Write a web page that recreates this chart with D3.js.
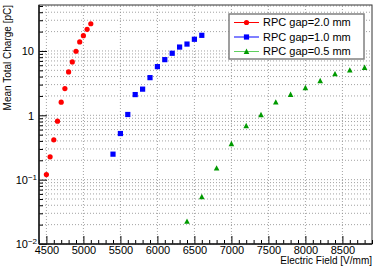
<!DOCTYPE html>
<html lang="en">
<head>
<meta charset="utf-8">
<title>Mean Total Charge</title>
<script src="https://d3js.org/d3.v7.min.js"></script>
<style>
  body { margin: 0; background: #fff; }
  text { font-family: "Liberation Sans", Arial, sans-serif; fill: #000; }
  .grid line { stroke: #8a8a8a; stroke-width: 0.8; stroke-dasharray: 1,2; }
  .axis line { stroke: #000; }
  .axis path { display: none; }
</style>
</head>
<body>
<div class="chart"></div>
<script>
// values
const field2mm = [4500, 4550, 4600, 4650, 4700, 4750, 4800, 4850, 4900, 4950, 5000, 5050, 5100];
const charge2mm = [0.120, 0.226, 0.416, 0.81, 1.60, 2.60, 4.72, 6.75, 9.9, 13.8, 17.3, 21.7, 26.5];
const field1mm = [5400, 5500, 5600, 5700, 5800, 5900, 6000, 6100, 6200, 6300, 6400, 6500, 6600];
const charge1mm = [0.249, 0.521, 1.03, 2.10, 2.55, 3.85, 5.71, 7.33, 9.21, 11.5, 12.8, 15.2, 17.5];
const field05mm = [6400, 6600, 6800, 7000, 7200, 7400, 7600, 7800, 8000, 8200, 8400, 8600, 8800];
const charge05mm = [0.0224, 0.0542, 0.151, 0.361, 0.686, 1.02, 1.60, 2.10, 2.67, 3.43, 4.40, 5.02, 5.51];
const seriesNames = ['RPC gap=2.0 mm', 'RPC gap=1.0 mm', 'RPC gap=0.5 mm'];
const xTicks = [4500, 5000, 5500, 6000, 6500, 7000, 7500, 8000, 8500];
const yTicks = [0.01, 0.1, 1, 10];
const yTickLabels = [['10', '\u22122'], ['10', '\u22121'], ['1', ''], ['10', '']];

const width = 381, height = 271;
const margin = {top: 5, right: 9, bottom: 27, left: 39};

const svg = d3.select('.chart').append('svg')
    .attr('width', width)
    .attr('height', height);

const x = d3.scaleLinear().domain([4400, 8900]).range([margin.left, width - margin.right]);
const y = d3.scaleLog().domain([0.01, 51.8]).range([height - margin.bottom, margin.top]);

const series = [
  {name: seriesNames[0], xs: field2mm, ys: charge2mm, marker: 'circle', color: '#ff0000', line: '#ff0000'},
  {name: seriesNames[1], xs: field1mm, ys: charge1mm, marker: 'square', color: '#0000ff', line: '#0000ff'},
  {name: seriesNames[2], xs: field05mm, ys: charge05mm, marker: 'triangle', color: '#009a00', line: '#5fd05f'}
];

// minor values
const xMinor = d3.range(4400, 8901, 100).filter(v => v % 500 !== 0);
const yMinor = [];
[0.01, 0.1, 1, 10].forEach(d => { for (let k = 2; k <= 9; k++) if (d * k <= 51.8) yMinor.push(d * k); });

// grid
svg.append('g').attr('class', 'grid')
  .selectAll('line').data(xTicks).enter().append('line')
  .attr('x1', d => x(d)).attr('x2', d => x(d))
  .attr('y1', y.range()[0]).attr('y2', y.range()[1]);
svg.append('g').attr('class', 'grid')
  .selectAll('line').data(yTicks.concat(yMinor)).enter().append('line')
  .attr('y1', d => y(d)).attr('y2', d => y(d))
  .attr('x1', x.range()[0]).attr('x2', x.range()[1]);

// frame
svg.append('rect')
  .attr('x', x.range()[0]).attr('y', y.range()[1])
  .attr('width', x.range()[1] - x.range()[0])
  .attr('height', y.range()[0] - y.range()[1])
  .attr('fill', 'none').attr('stroke', '#333').attr('stroke-width', 1);

// x axis
const xAxis = svg.append('g').attr('class', 'axis')
  .attr('transform', `translate(0,${y.range()[0]})`)
  .call(d3.axisBottom(x).tickValues(xTicks).tickSize(-8).tickPadding(8).tickFormat(d3.format('d')));
xAxis.selectAll('text').attr('font-size', 11).attr('dy', '0.2em');
svg.append('g').attr('class', 'axis')
  .attr('transform', `translate(0,${y.range()[0]})`)
  .call(d3.axisBottom(x).tickValues(xMinor).tickSize(-4).tickFormat(''));

// y axis
const yAxis = svg.append('g').attr('class', 'axis')
  .attr('transform', `translate(${x.range()[0]},0)`)
  .call(d3.axisLeft(y).tickValues(yTicks).tickSize(-8).tickPadding(5).tickFormat(''));
yAxis.selectAll('.tick').each(function(d, i) {
  const lab = yTickLabels[i];
  const t = d3.select(this).append('text')
    .attr('x', lab[1] ? -2 : -5).attr('dy', '0.35em')
    .attr('font-size', 11).attr('text-anchor', 'end');
  t.append('tspan').text(lab[0]);
  if (lab[1]) t.append('tspan').attr('font-size', 8).attr('dy', '-0.55em').text(lab[1]);
});
svg.append('g').attr('class', 'axis')
  .attr('transform', `translate(${x.range()[0]},0)`)
  .call(d3.axisLeft(y).tickValues(yMinor).tickSize(-4).tickFormat(''));

// heavier axis lines
svg.append('line')
  .attr('x1', x.range()[0]).attr('x2', x.range()[0])
  .attr('y1', y.range()[0]).attr('y2', y.range()[1])
  .attr('stroke', '#222').attr('stroke-width', 1.6);
svg.append('line')
  .attr('x1', x.range()[0]).attr('x2', x.range()[1])
  .attr('y1', y.range()[0]).attr('y2', y.range()[0])
  .attr('stroke', '#222').attr('stroke-width', 1.6);

// titles
svg.append('text')
  .attr('x', width - margin.right).attr('y', 264)
  .attr('text-anchor', 'end').attr('font-size', 10)
  .text('Electric Field [V/mm]');
svg.append('text')
  .attr('transform', `translate(11,${margin.top}) rotate(-90)`)
  .attr('text-anchor', 'end').attr('font-size', 10)
  .text('Mean Total Charge [pC]');

function drawMarker(g, type, cx, cy, color) {
  if (type === 'circle') {
    g.append('circle').attr('cx', cx).attr('cy', cy).attr('r', 2.6).attr('fill', color);
  } else if (type === 'square') {
    g.append('rect').attr('x', cx - 2.6).attr('y', cy - 2.6).attr('width', 5.2).attr('height', 5.2).attr('fill', color);
  } else {
    g.append('path').attr('d', `M${cx},${cy - 3}L${cx + 2.8},${cy + 2.4}L${cx - 2.8},${cy + 2.4}Z`).attr('fill', color);
  }
}

// points
series.forEach(s => {
  const g = svg.append('g');
  s.xs.forEach((v, i) => drawMarker(g, s.marker, x(v), y(s.ys[i]), s.color));
});

// legend
const legend = svg.append('g').attr('transform', 'translate(229,14)');
legend.append('rect').attr('width', 135).attr('height', 45)
  .attr('fill', '#fff').attr('stroke', '#808080').attr('stroke-width', 1.5);
series.forEach((s, i) => {
  const ly = 8.5 + i * 14.5;
  legend.append('line').attr('x1', 5).attr('x2', 30).attr('y1', ly).attr('y2', ly)
    .attr('stroke', s.line).attr('stroke-width', 1);
  drawMarker(legend, s.marker, 17.5, ly, s.color);
  legend.append('text').attr('x', 34).attr('y', ly).attr('dy', '0.36em')
    .attr('font-size', 11).text(s.name);
});
</script>
</body>
</html>
